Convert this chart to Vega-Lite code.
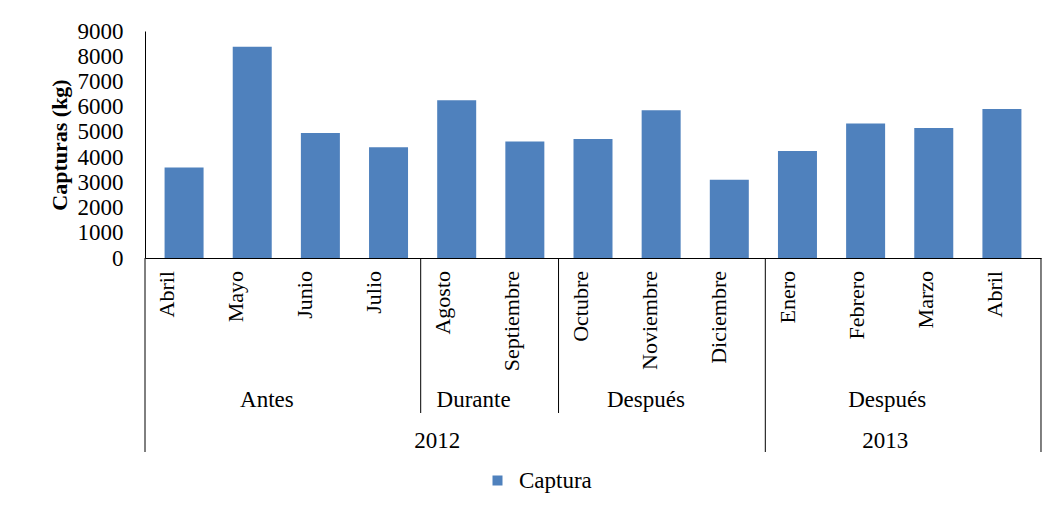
{
  "$schema": "https://vega.github.io/schema/vega-lite/v6.json",
  "background": "white",
  "padding": {"left": 48, "top": 20, "right": 10, "bottom": 5},
  "spacing": 0,
  "bounds": "flush",
  "config": {"view": {"stroke": null}, "font": "Liberation Serif"},
  "datasets": {
    "meses": [
      {"n": 1, "mes": "Abril", "captura": 3590, "periodo": "Antes", "anio": "2012"},
      {"n": 2, "mes": "Mayo", "captura": 8380, "periodo": "Antes", "anio": "2012"},
      {"n": 3, "mes": "Junio", "captura": 4960, "periodo": "Antes", "anio": "2012"},
      {"n": 4, "mes": "Julio", "captura": 4390, "periodo": "Antes", "anio": "2012"},
      {"n": 5, "mes": "Agosto", "captura": 6250, "periodo": "Durante", "anio": "2012"},
      {"n": 6, "mes": "Septiembre", "captura": 4620, "periodo": "Durante", "anio": "2012"},
      {"n": 7, "mes": "Octubre", "captura": 4720, "periodo": "Después", "anio": "2012"},
      {"n": 8, "mes": "Noviembre", "captura": 5860, "periodo": "Después", "anio": "2012"},
      {"n": 9, "mes": "Diciembre", "captura": 3100, "periodo": "Después", "anio": "2012"},
      {"n": 10, "mes": "Enero", "captura": 4240, "periodo": "Después", "anio": "2013"},
      {"n": 11, "mes": "Febrero", "captura": 5330, "periodo": "Después", "anio": "2013"},
      {"n": 12, "mes": "Marzo", "captura": 5150, "periodo": "Después", "anio": "2013"},
      {"n": 13, "mes": "Abril", "captura": 5910, "periodo": "Después", "anio": "2013"}
    ]
  },
  "vconcat": [
    {
      "width": 896,
      "height": 227,
      "data": {"name": "meses"},
      "mark": {"type": "bar", "width": 39},
      "encoding": {
        "x": {
          "field": "n", "type": "quantitative",
          "scale": {"domain": [0.5, 13.5], "nice": false, "zero": false},
          "axis": {"title": null, "labels": false, "ticks": false, "grid": false, "domainColor": "#000000", "domainWidth": 1}
        },
        "y": {
          "field": "captura", "type": "quantitative",
          "scale": {"domain": [0, 9000], "nice": false},
          "axis": {
            "title": "Capturas (kg)",
            "values": [0, 1000, 2000, 3000, 4000, 5000, 6000, 7000, 8000, 9000],
            "format": "d",
            "grid": false, "ticks": false, "tickSize": 0,
            "labelPadding": 22, "labelFont": "Liberation Serif", "labelFontSize": 23, "labelColor": "#000000",
            "titleFont": "Liberation Serif", "titleFontSize": 22, "titleFontWeight": "bold", "titleColor": "#000000", "titlePadding": 6,
            "domainColor": "#000000", "domainWidth": 1
          }
        },
        "color": {
          "datum": "Captura", "type": "nominal",
          "scale": {"range": ["#4F81BD"]},
          "legend": {
            "title": null, "orient": "none", "legendX": 341, "legendY": 438,
            "symbolType": "square", "symbolSize": 100, "symbolStrokeWidth": 0,
            "labelFont": "Liberation Serif", "labelFontSize": 23, "labelColor": "#000000", "labelOffset": 10
          }
        }
      }
    },
    {
      "width": 896,
      "height": 155,
      "data": {"name": "meses"},
      "layer": [
        {
          "mark": {"type": "text", "angle": 270, "align": "right", "baseline": "middle", "fontSize": 22, "font": "Liberation Serif", "color": "#000000", "yOffset": 13, "xOffset": -12},
          "encoding": {
            "x": {"field": "n", "type": "quantitative", "scale": {"domain": [0.5, 13.5], "nice": false, "zero": false}, "axis": null},
            "y": {"datum": "mes", "type": "nominal", "scale": {"type": "point", "domain": ["mes", "grupo"], "padding": 0}, "axis": null},
            "text": {"field": "mes", "type": "nominal"}
          }
        },
        {
          "transform": [{"aggregate": [{"op": "mean", "field": "n", "as": "centro"}], "groupby": ["periodo", "anio"]}],
          "mark": {"type": "text", "align": "center", "baseline": "alphabetic", "fontSize": 23, "font": "Liberation Serif", "color": "#000000", "yOffset": -6, "xOffset": -16},
          "encoding": {
            "x": {"field": "centro", "type": "quantitative", "scale": {"domain": [0.5, 13.5], "nice": false, "zero": false}, "axis": null},
            "y": {"datum": "grupo", "type": "nominal", "scale": {"type": "point", "domain": ["mes", "grupo"], "padding": 0}, "axis": null},
            "text": {"field": "periodo", "type": "nominal"}
          }
        },
        {
          "transform": [{"aggregate": [{"op": "min", "field": "n", "as": "inicio"}], "groupby": ["periodo", "anio"]}],
          "mark": {"type": "rule", "color": "#000000", "strokeWidth": 1, "xOffset": -34.46},
          "encoding": {
            "x": {"field": "inicio", "type": "quantitative", "scale": {"domain": [0.5, 13.5], "nice": false, "zero": false}, "axis": null}
          }
        },
        {
          "transform": [{"aggregate": [{"op": "max", "field": "n", "as": "fin"}]}],
          "mark": {"type": "rule", "color": "#000000", "strokeWidth": 1, "xOffset": 34.46},
          "encoding": {
            "x": {"field": "fin", "type": "quantitative", "scale": {"domain": [0.5, 13.5], "nice": false, "zero": false}, "axis": null}
          }
        }
      ]
    },
    {
      "width": 896,
      "height": 39,
      "data": {"name": "meses"},
      "layer": [
        {
          "transform": [{"aggregate": [{"op": "mean", "field": "n", "as": "centro"}], "groupby": ["anio"]}],
          "mark": {"type": "text", "align": "center", "baseline": "alphabetic", "fontSize": 23, "font": "Liberation Serif", "color": "#000000", "yOffset": 15.5, "xOffset": -18},
          "encoding": {
            "x": {"field": "centro", "type": "quantitative", "scale": {"domain": [0.5, 13.5], "nice": false, "zero": false}, "axis": null},
            "text": {"field": "anio", "type": "nominal"}
          }
        },
        {
          "transform": [{"aggregate": [{"op": "min", "field": "n", "as": "inicio"}], "groupby": ["anio"]}],
          "mark": {"type": "rule", "color": "#000000", "strokeWidth": 1, "xOffset": -34.46},
          "encoding": {
            "x": {"field": "inicio", "type": "quantitative", "scale": {"domain": [0.5, 13.5], "nice": false, "zero": false}, "axis": null}
          }
        },
        {
          "transform": [{"aggregate": [{"op": "max", "field": "n", "as": "fin"}]}],
          "mark": {"type": "rule", "color": "#000000", "strokeWidth": 1, "xOffset": 34.46},
          "encoding": {
            "x": {"field": "fin", "type": "quantitative", "scale": {"domain": [0.5, 13.5], "nice": false, "zero": false}, "axis": null}
          }
        }
      ]
    }
  ]
}
